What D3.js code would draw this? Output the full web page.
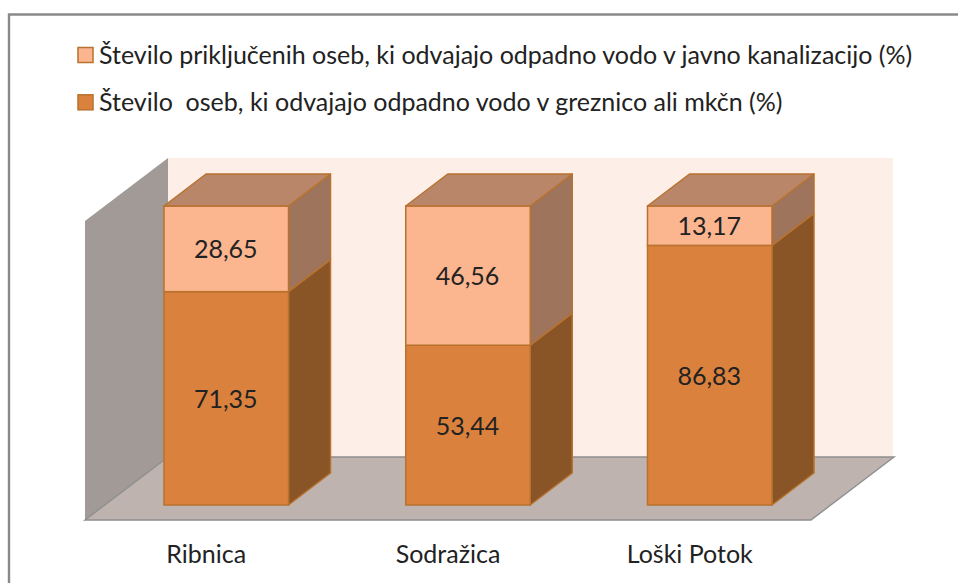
<!DOCTYPE html>
<html><head><meta charset="utf-8">
<script src="https://cdn.jsdelivr.net/npm/d3@7"></script>
<style>html,body{margin:0;padding:0;background:#fff}svg{display:block}text{font-family:Lato,"Noto Sans",sans-serif;fill:#222}</style>
</head><body><svg id="c" width="958" height="583"></svg>
<script>
const categories = ["Ribnica", "Sodražica", "Loški Potok"];
const sewerValues = [28.65, 46.56, 13.17];
const cesspitValues = [71.35, 53.44, 86.83];
const legendLabels = [
  "Število priključenih oseb, ki odvajajo odpadno vodo v javno kanalizacijo (%)",
  "Število  oseb, ki odvajajo odpadno vodo v greznico ali mkčn (%)"
];

const W = 958, H = 583;
const depth = {dx: 42, dy: -32};
const wallDepth = {dx: 83, dy: -63};
const frontLeft = 85, frontRight = 811, floorY = 520, wallTop = 221;
const pal = {
  light: {front: "#FBB58F", side: "#9E755C"},
  dark:  {front: "#DA813D", side: "#895426"},
  top: "#BA8669", stroke: "#B8722E",
  back: "#FDEFE8", wall: "#A29A96", floor: "#BEB3AE", edge: "#8F8F8F", frame: "#8A8A8A"
};

const svg = d3.select("#c").attr("viewBox", [0, 0, W, H]);
const x = d3.scaleBand().domain(categories).range([164, 772]).paddingInner(0.485).paddingOuter(0);
const y = d3.scaleLinear().domain([0, 100]).range([505, 206]);
const pts = p => p.map(q => q.join(",")).join(" ");

// chart frame (right and bottom run off the picture)
svg.append("path").attr("d", `M9,${H}V14.5H${W}`).attr("fill", "none")
  .attr("stroke", pal.frame).attr("stroke-width", 2.4);

// 3D walls and floor
svg.append("polygon").attr("fill", pal.back).attr("points", pts([
  [frontLeft + wallDepth.dx, wallTop + wallDepth.dy], [frontRight + wallDepth.dx - 1, wallTop + wallDepth.dy],
  [frontRight + wallDepth.dx - 1, floorY + wallDepth.dy], [frontLeft + wallDepth.dx, floorY + wallDepth.dy]]));
svg.append("polygon").attr("fill", pal.wall).attr("points", pts([
  [frontLeft, wallTop], [frontLeft + wallDepth.dx, wallTop + wallDepth.dy],
  [frontLeft + wallDepth.dx, floorY + wallDepth.dy], [frontLeft, floorY]]));
svg.append("polygon").attr("fill", pal.floor).attr("points", pts([
  [frontLeft, floorY], [frontLeft + wallDepth.dx, floorY + wallDepth.dy],
  [frontRight + wallDepth.dx, floorY + wallDepth.dy], [frontRight, floorY]]));
svg.append("path").attr("fill", "none").attr("stroke", pal.edge).attr("stroke-width", 1.4)
  .attr("d", `M${frontLeft + wallDepth.dx},${floorY + wallDepth.dy}L${frontLeft},${floorY}H${frontRight}L${frontRight + wallDepth.dx},${floorY + wallDepth.dy}H${frontLeft + wallDepth.dx}`);

// stacked bars
const rows = categories.map((c, i) => ({c, segs: [
  {from: 0, to: cesspitValues[i], v: cesspitValues[i], col: pal.dark},
  {from: cesspitValues[i], to: cesspitValues[i] + sewerValues[i], v: sewerValues[i], col: pal.light}
]}));
const bars = svg.append("g").selectAll("g").data(rows).join("g");
bars.each(function(r) {
  const g = d3.select(this), x0 = x(r.c), x1 = x0 + x.bandwidth();
  r.segs.forEach(s => {
    const yb = y(s.from), yt = y(s.to);
    g.append("polygon").attr("fill", s.col.side).attr("stroke", pal.stroke).attr("stroke-width", 1.5)
      .attr("stroke-linejoin", "round")
      .attr("points", pts([[x1, yb], [x1 + depth.dx, yb + depth.dy], [x1 + depth.dx, yt + depth.dy], [x1, yt]]));
    g.append("rect").attr("x", x0).attr("y", yt).attr("width", x.bandwidth()).attr("height", yb - yt)
      .attr("fill", s.col.front).attr("stroke", pal.stroke).attr("stroke-width", 1.5);
    g.append("text").attr("x", (x0 + x1) / 2 - 0.5).attr("y", (yb + yt) / 2 + 9.5).attr("text-anchor", "middle")
      .attr("font-size", 25).text(s.v.toFixed(2).replace(".", ","));
  });
  const yt = y(r.segs[1].to);
  g.append("polygon").attr("fill", pal.top).attr("stroke", pal.stroke).attr("stroke-width", 1.5)
    .attr("stroke-linejoin", "round")
    .attr("points", pts([[x0, yt], [x0 + depth.dx, yt + depth.dy], [x1 + depth.dx, yt + depth.dy], [x1, yt]]));
});

// category axis, centred on the floor's front edge
const axis = svg.append("g").attr("transform", `translate(-20,${floorY})`)
  .call(d3.axisBottom(x).tickSize(0).tickPadding(25));
axis.select(".domain").remove();
axis.selectAll("text").attr("font-size", 25).style("font-family", "Lato,'Noto Sans',sans-serif").attr("fill", "#222");

// legend
const lg = svg.append("g").selectAll("g").data(legendLabels).join("g")
  .attr("transform", (d, i) => `translate(78,${47.5 + i * 47.3})`);
lg.append("rect").attr("width", 15).attr("height", 15)
  .attr("fill", (d, i) => i ? pal.dark.front : pal.light.front)
  .attr("stroke", pal.stroke).attr("stroke-width", 1.5);
lg.append("text").attr("x", 21).attr("y", 16).attr("font-size", 25)
  .style("white-space", "pre").text(d => d);
</script></body></html>
